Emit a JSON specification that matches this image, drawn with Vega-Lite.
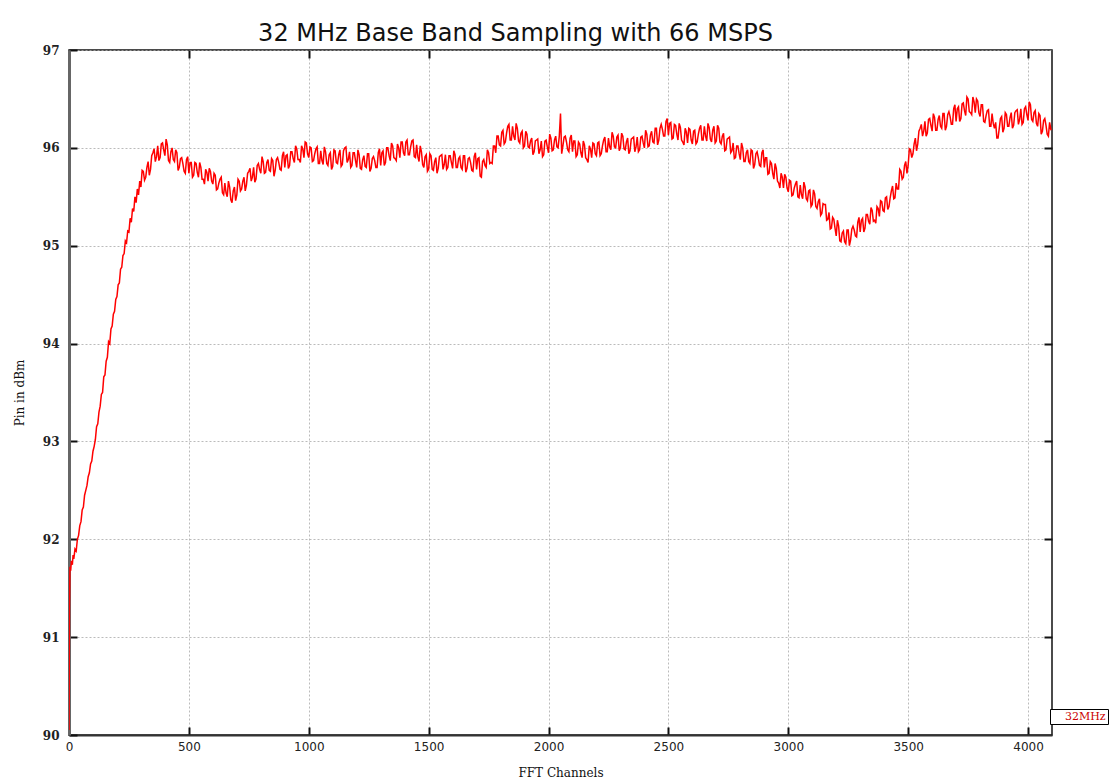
{
  "$schema": "https://vega.github.io/schema/vega-lite/v6.json",
  "autosize": {"type": "none"},
  "padding": {"left": 69, "top": 50, "right": 57, "bottom": 48},
  "width": 983,
  "height": 685,
  "background": "white",
  "title": {"text": "32 MHz Base Band Sampling with 66 MSPS", "font": "DejaVu Sans", "fontSize": 24, "fontWeight": "normal", "color": "#111", "anchor": "middle", "dx": -45, "offset": -2},
  "config": {
    "view": {"stroke": "#111", "strokeWidth": 1.5},
    "axis": {"gridColor": "#aaaaaa", "gridDash": [2, 2], "gridWidth": 0.8, "tickColor": "#111", "tickWidth": 2, "tickSize": -8}
  },
  "data": {"values": [
    {"c":0,"p":90.05},{"c":2,"p":91.3},{"c":4,"p":91.72},{"c":7,"p":91.68},{"c":10,"p":91.78},{"c":14,"p":91.74},{"c":17,"p":91.84},{"c":20,"p":91.8},{"c":25,"p":91.9},{"c":30,"p":91.88},{"c":35,"p":92.0},{"c":40,"p":92.04},{"c":45,"p":92.14},{"c":50,"p":92.18},{"c":55,"p":92.3},{"c":60,"p":92.33},{"c":65,"p":92.45},{"c":70,"p":92.5},{"c":75,"p":92.55},{"c":80,"p":92.64},{"c":85,"p":92.68},{"c":90,"p":92.77},{"c":95,"p":92.8},{"c":100,"p":92.9},{"c":105,"p":92.95},{"c":110,"p":93.02},{"c":115,"p":93.15},{"c":120,"p":93.18},{"c":125,"p":93.3},{"c":130,"p":93.36},{"c":135,"p":93.48},{"c":140,"p":93.5},{"c":145,"p":93.66},{"c":150,"p":93.68},{"c":155,"p":93.82},{"c":160,"p":93.86},{"c":165,"p":94.02},{"c":170,"p":94.0},{"c":175,"p":94.15},{"c":180,"p":94.18},{"c":185,"p":94.3},{"c":190,"p":94.33},{"c":195,"p":94.45},{"c":200,"p":94.48},{"c":205,"p":94.6},{"c":210,"p":94.62},{"c":215,"p":94.76},{"c":220,"p":94.78},{"c":225,"p":94.9},{"c":230,"p":94.92},{"c":235,"p":95.05},{"c":240,"p":95.03},{"c":245,"p":95.15},{"c":250,"p":95.14},{"c":255,"p":95.28},{"c":260,"p":95.24},{"c":265,"p":95.38},{"c":270,"p":95.35},{"c":275,"p":95.5},{"c":280,"p":95.44},{"c":285,"p":95.58},{"c":290,"p":95.52},{"c":295,"p":95.66},{"c":300,"p":95.6},
    {"c":310,"p":95.76},{"c":320,"p":95.7},{"c":330,"p":95.86},{"c":340,"p":95.78},{"c":350,"p":95.95},{"c":360,"p":95.86},{"c":370,"p":96.02},{"c":380,"p":95.9},{"c":390,"p":96.05},{"c":400,"p":95.92},{"c":410,"p":96.03},{"c":420,"p":95.85},{"c":430,"p":96.0},{"c":440,"p":95.86},{"c":450,"p":95.95},{"c":460,"p":95.8},{"c":470,"p":95.9},{"c":480,"p":95.76},{"c":490,"p":95.88},{"c":500,"p":95.74},
    {"c":510,"p":95.85},{"c":520,"p":95.72},{"c":530,"p":95.84},{"c":540,"p":95.7},{"c":550,"p":95.8},{"c":560,"p":95.68},{"c":570,"p":95.78},{"c":580,"p":95.66},{"c":590,"p":95.76},{"c":600,"p":95.63},{"c":610,"p":95.72},{"c":620,"p":95.58},{"c":630,"p":95.68},{"c":640,"p":95.54},{"c":650,"p":95.64},{"c":660,"p":95.5},{"c":670,"p":95.6},{"c":680,"p":95.44},{"c":690,"p":95.6},{"c":700,"p":95.52},
    {"c":710,"p":95.66},{"c":720,"p":95.58},{"c":730,"p":95.7},{"c":740,"p":95.62},{"c":750,"p":95.76},{"c":760,"p":95.66},{"c":770,"p":95.8},{"c":780,"p":95.68},{"c":790,"p":95.84},{"c":800,"p":95.74},{"c":810,"p":95.86},{"c":820,"p":95.75},{"c":830,"p":95.88},{"c":840,"p":95.76},{"c":850,"p":95.87},{"c":860,"p":95.77},{"c":870,"p":95.9},{"c":880,"p":95.78},{"c":890,"p":95.92},{"c":900,"p":95.8},
    {"c":910,"p":95.93},{"c":920,"p":95.82},{"c":930,"p":95.96},{"c":940,"p":95.85},{"c":950,"p":95.99},{"c":960,"p":95.88},{"c":970,"p":96.02},{"c":980,"p":95.9},{"c":990,"p":96.05},{"c":1000,"p":95.9},{"c":1010,"p":96.0},{"c":1020,"p":95.87},{"c":1030,"p":95.99},{"c":1040,"p":95.84},{"c":1050,"p":95.97},{"c":1060,"p":95.83},{"c":1070,"p":95.96},{"c":1080,"p":95.82},{"c":1090,"p":95.95},{"c":1100,"p":95.81},
    {"c":1110,"p":95.97},{"c":1120,"p":95.84},{"c":1130,"p":95.98},{"c":1140,"p":95.83},{"c":1150,"p":96.0},{"c":1160,"p":95.85},{"c":1170,"p":95.96},{"c":1180,"p":95.82},{"c":1190,"p":95.95},{"c":1200,"p":95.8},{"c":1210,"p":95.93},{"c":1220,"p":95.78},{"c":1230,"p":95.92},{"c":1240,"p":95.8},{"c":1250,"p":95.94},{"c":1260,"p":95.79},{"c":1270,"p":95.91},{"c":1280,"p":95.8},{"c":1290,"p":95.95},{"c":1300,"p":95.82},
    {"c":1310,"p":95.97},{"c":1320,"p":95.85},{"c":1330,"p":96.0},{"c":1340,"p":95.87},{"c":1350,"p":96.02},{"c":1360,"p":95.89},{"c":1370,"p":96.04},{"c":1380,"p":95.9},{"c":1390,"p":96.06},{"c":1400,"p":95.92},{"c":1410,"p":96.08},{"c":1420,"p":95.93},{"c":1430,"p":96.07},{"c":1440,"p":95.91},{"c":1450,"p":96.03},{"c":1460,"p":95.86},{"c":1470,"p":95.96},{"c":1480,"p":95.8},{"c":1490,"p":95.93},{"c":1500,"p":95.78},
    {"c":1510,"p":95.92},{"c":1520,"p":95.77},{"c":1530,"p":95.9},{"c":1540,"p":95.79},{"c":1550,"p":95.92},{"c":1560,"p":95.78},{"c":1570,"p":95.93},{"c":1580,"p":95.8},{"c":1590,"p":95.92},{"c":1600,"p":95.79},{"c":1610,"p":95.93},{"c":1620,"p":95.8},{"c":1630,"p":95.91},{"c":1640,"p":95.78},{"c":1650,"p":95.92},{"c":1660,"p":95.79},{"c":1670,"p":95.9},{"c":1680,"p":95.77},{"c":1690,"p":95.91},{"c":1700,"p":95.78},
    {"c":1710,"p":95.9},{"c":1720,"p":95.7},{"c":1730,"p":95.88},{"c":1740,"p":95.8},{"c":1750,"p":95.95},{"c":1760,"p":95.85},{"c":1770,"p":96.02},{"c":1780,"p":95.95},{"c":1790,"p":96.12},{"c":1800,"p":96.02},{"c":1810,"p":96.18},{"c":1820,"p":96.06},{"c":1830,"p":96.22},{"c":1840,"p":96.08},{"c":1850,"p":96.22},{"c":1860,"p":96.08},{"c":1870,"p":96.2},{"c":1880,"p":96.05},{"c":1890,"p":96.17},{"c":1900,"p":96.02},
    {"c":1910,"p":96.14},{"c":1920,"p":96.0},{"c":1930,"p":96.1},{"c":1940,"p":95.96},{"c":1950,"p":96.08},{"c":1960,"p":95.94},{"c":1970,"p":96.07},{"c":1980,"p":95.93},{"c":1990,"p":96.08},{"c":2000,"p":95.95},{"c":2010,"p":96.1},{"c":2020,"p":95.98},{"c":2030,"p":96.12},{"c":2040,"p":96.0},{"c":2050,"p":96.35},{"c":2060,"p":96.02},{"c":2070,"p":96.12},{"c":2080,"p":95.98},{"c":2090,"p":96.1},{"c":2100,"p":95.96},
    {"c":2110,"p":96.07},{"c":2120,"p":95.93},{"c":2130,"p":96.04},{"c":2140,"p":95.9},{"c":2150,"p":96.03},{"c":2160,"p":95.88},{"c":2170,"p":96.02},{"c":2180,"p":95.9},{"c":2190,"p":96.04},{"c":2200,"p":95.92},{"c":2210,"p":96.06},{"c":2220,"p":95.94},{"c":2230,"p":96.08},{"c":2240,"p":95.96},{"c":2250,"p":96.1},{"c":2260,"p":95.98},{"c":2270,"p":96.12},{"c":2280,"p":96.0},{"c":2290,"p":96.13},{"c":2300,"p":96.0},
    {"c":2310,"p":96.12},{"c":2320,"p":95.98},{"c":2330,"p":96.1},{"c":2340,"p":95.97},{"c":2350,"p":96.1},{"c":2360,"p":95.96},{"c":2370,"p":96.11},{"c":2380,"p":95.98},{"c":2390,"p":96.12},{"c":2400,"p":96.0},{"c":2410,"p":96.14},{"c":2420,"p":96.02},{"c":2430,"p":96.17},{"c":2440,"p":96.05},{"c":2450,"p":96.2},{"c":2460,"p":96.08},{"c":2470,"p":96.24},{"c":2480,"p":96.12},{"c":2490,"p":96.27},{"c":2500,"p":96.13},
    {"c":2510,"p":96.26},{"c":2520,"p":96.1},{"c":2530,"p":96.23},{"c":2540,"p":96.08},{"c":2550,"p":96.21},{"c":2560,"p":96.06},{"c":2570,"p":96.2},{"c":2580,"p":96.05},{"c":2590,"p":96.19},{"c":2600,"p":96.04},{"c":2610,"p":96.18},{"c":2620,"p":96.06},{"c":2630,"p":96.2},{"c":2640,"p":96.08},{"c":2650,"p":96.22},{"c":2660,"p":96.07},{"c":2670,"p":96.21},{"c":2680,"p":96.06},{"c":2690,"p":96.22},{"c":2700,"p":96.07},
    {"c":2710,"p":96.2},{"c":2720,"p":96.04},{"c":2730,"p":96.15},{"c":2740,"p":95.98},{"c":2750,"p":96.1},{"c":2760,"p":95.95},{"c":2770,"p":96.05},{"c":2780,"p":95.9},{"c":2790,"p":96.02},{"c":2800,"p":95.88},{"c":2810,"p":96.0},{"c":2820,"p":95.86},{"c":2830,"p":95.98},{"c":2840,"p":95.84},{"c":2850,"p":95.97},{"c":2860,"p":95.83},{"c":2870,"p":95.96},{"c":2880,"p":95.82},{"c":2890,"p":95.95},{"c":2900,"p":95.8},
    {"c":2910,"p":95.9},{"c":2920,"p":95.74},{"c":2930,"p":95.84},{"c":2940,"p":95.68},{"c":2950,"p":95.79},{"c":2960,"p":95.64},{"c":2970,"p":95.74},{"c":2980,"p":95.59},{"c":2990,"p":95.7},{"c":3000,"p":95.55},{"c":3010,"p":95.66},{"c":3020,"p":95.52},{"c":3030,"p":95.63},{"c":3040,"p":95.5},{"c":3050,"p":95.62},{"c":3060,"p":95.48},{"c":3070,"p":95.6},{"c":3080,"p":95.46},{"c":3090,"p":95.57},{"c":3100,"p":95.42},
    {"c":3110,"p":95.53},{"c":3120,"p":95.38},{"c":3130,"p":95.48},{"c":3140,"p":95.33},{"c":3150,"p":95.42},{"c":3160,"p":95.26},{"c":3170,"p":95.34},{"c":3180,"p":95.18},{"c":3190,"p":95.27},{"c":3200,"p":95.1},{"c":3210,"p":95.2},{"c":3220,"p":95.04},{"c":3230,"p":95.15},{"c":3240,"p":95.02},{"c":3250,"p":95.16},{"c":3260,"p":95.06},{"c":3270,"p":95.2},{"c":3280,"p":95.1},{"c":3290,"p":95.24},{"c":3300,"p":95.14},
    {"c":3310,"p":95.28},{"c":3320,"p":95.18},{"c":3330,"p":95.32},{"c":3340,"p":95.22},{"c":3350,"p":95.36},{"c":3360,"p":95.26},{"c":3370,"p":95.4},{"c":3380,"p":95.3},{"c":3390,"p":95.45},{"c":3400,"p":95.35},{"c":3410,"p":95.5},{"c":3420,"p":95.4},{"c":3430,"p":95.56},{"c":3440,"p":95.48},{"c":3450,"p":95.64},{"c":3460,"p":95.58},{"c":3470,"p":95.76},{"c":3480,"p":95.7},{"c":3490,"p":95.86},{"c":3500,"p":95.82},
    {"c":3510,"p":95.98},{"c":3520,"p":95.94},{"c":3530,"p":96.1},{"c":3540,"p":96.04},{"c":3550,"p":96.2},{"c":3560,"p":96.12},{"c":3570,"p":96.27},{"c":3580,"p":96.15},{"c":3590,"p":96.3},{"c":3600,"p":96.17},{"c":3610,"p":96.31},{"c":3620,"p":96.18},{"c":3630,"p":96.33},{"c":3640,"p":96.2},{"c":3650,"p":96.35},{"c":3660,"p":96.22},{"c":3670,"p":96.37},{"c":3680,"p":96.24},{"c":3690,"p":96.4},{"c":3700,"p":96.27},
    {"c":3710,"p":96.42},{"c":3720,"p":96.3},{"c":3730,"p":96.46},{"c":3740,"p":96.33},{"c":3750,"p":96.5},{"c":3760,"p":96.36},{"c":3770,"p":96.52},{"c":3780,"p":96.36},{"c":3790,"p":96.48},{"c":3800,"p":96.32},{"c":3810,"p":96.44},{"c":3820,"p":96.26},{"c":3830,"p":96.38},{"c":3840,"p":96.22},{"c":3850,"p":96.35},{"c":3860,"p":96.2},{"c":3870,"p":96.1},{"c":3880,"p":96.2},{"c":3890,"p":96.32},{"c":3900,"p":96.2},
    {"c":3910,"p":96.34},{"c":3920,"p":96.22},{"c":3930,"p":96.36},{"c":3940,"p":96.23},{"c":3950,"p":96.38},{"c":3960,"p":96.24},{"c":3970,"p":96.4},{"c":3980,"p":96.26},{"c":3990,"p":96.42},{"c":4000,"p":96.28},{"c":4010,"p":96.44},{"c":4020,"p":96.27},{"c":4030,"p":96.38},{"c":4040,"p":96.22},{"c":4050,"p":96.33},{"c":4060,"p":96.17},{"c":4070,"p":96.3},{"c":4080,"p":96.14},{"c":4090,"p":96.26},{"c":4096,"p":96.18},
    {"c":305,"p":95.77},{"c":315,"p":95.67},{"c":325,"p":95.8},{"c":335,"p":95.72},{"c":345,"p":95.92},{"c":355,"p":95.99},{"c":365,"p":95.91},{"c":375,"p":95.87},{"c":385,"p":96.04},{"c":395,"p":95.98},{"c":405,"p":96.09},{"c":415,"p":95.87},{"c":425,"p":95.96},{"c":435,"p":95.88},{"c":445,"p":95.98},{"c":455,"p":95.77},{"c":465,"p":95.89},{"c":475,"p":95.84},{"c":485,"p":95.74},{"c":495,"p":95.91},
    {"c":505,"p":95.85},{"c":515,"p":95.7},{"c":525,"p":95.85},{"c":535,"p":95.75},{"c":545,"p":95.85},{"c":555,"p":95.68},{"c":565,"p":95.63},{"c":575,"p":95.75},{"c":585,"p":95.79},{"c":595,"p":95.66},{"c":605,"p":95.74},{"c":615,"p":95.57},{"c":625,"p":95.64},{"c":635,"p":95.7},{"c":645,"p":95.52},{"c":655,"p":95.54},{"c":665,"p":95.66},{"c":675,"p":95.47},{"c":685,"p":95.56},{"c":695,"p":95.46},
    {"c":705,"p":95.68},{"c":715,"p":95.56},{"c":725,"p":95.66},{"c":735,"p":95.56},{"c":745,"p":95.74},{"c":755,"p":95.79},{"c":765,"p":95.7},{"c":775,"p":95.65},{"c":785,"p":95.82},{"c":795,"p":95.78},{"c":805,"p":95.91},{"c":815,"p":95.74},{"c":825,"p":95.85},{"c":835,"p":95.77},{"c":845,"p":95.89},{"c":855,"p":95.71},{"c":865,"p":95.88},{"c":875,"p":95.85},{"c":885,"p":95.77},{"c":895,"p":95.96},
    {"c":905,"p":95.92},{"c":915,"p":95.79},{"c":925,"p":95.96},{"c":935,"p":95.89},{"c":945,"p":96.02},{"c":955,"p":95.88},{"c":965,"p":95.85},{"c":975,"p":95.99},{"c":985,"p":96.06},{"c":995,"p":95.94},{"c":1005,"p":96.01},{"c":1015,"p":95.86},{"c":1025,"p":95.94},{"c":1035,"p":96.01},{"c":1045,"p":95.84},{"c":1055,"p":95.87},{"c":1065,"p":96.01},{"c":1075,"p":95.84},{"c":1085,"p":95.93},{"c":1095,"p":95.78},
    {"c":1105,"p":95.98},{"c":1115,"p":95.85},{"c":1125,"p":95.93},{"c":1135,"p":95.81},{"c":1145,"p":95.97},{"c":1155,"p":96.01},{"c":1165,"p":95.88},{"c":1175,"p":95.8},{"c":1185,"p":95.95},{"c":1195,"p":95.87},{"c":1205,"p":95.98},{"c":1215,"p":95.79},{"c":1225,"p":95.88},{"c":1235,"p":95.81},{"c":1245,"p":95.94},{"c":1255,"p":95.76},{"c":1265,"p":95.89},{"c":1275,"p":95.87},{"c":1285,"p":95.8},{"c":1295,"p":95.99},
    {"c":1305,"p":95.95},{"c":1315,"p":95.82},{"c":1325,"p":96.0},{"c":1335,"p":95.92},{"c":1345,"p":96.05},{"c":1355,"p":95.9},{"c":1365,"p":95.87},{"c":1375,"p":96.0},{"c":1385,"p":96.06},{"c":1395,"p":95.95},{"c":1405,"p":96.06},{"c":1415,"p":95.93},{"c":1425,"p":96.01},{"c":1435,"p":96.08},{"c":1445,"p":95.9},{"c":1455,"p":95.91},{"c":1465,"p":96.02},{"c":1475,"p":95.83},{"c":1485,"p":95.91},{"c":1495,"p":95.76},
    {"c":1505,"p":95.94},{"c":1515,"p":95.78},{"c":1525,"p":95.86},{"c":1535,"p":95.74},{"c":1545,"p":95.91},{"c":1555,"p":95.93},{"c":1565,"p":95.83},{"c":1575,"p":95.78},{"c":1585,"p":95.92},{"c":1595,"p":95.85},{"c":1605,"p":95.97},{"c":1615,"p":95.8},{"c":1625,"p":95.89},{"c":1635,"p":95.8},{"c":1645,"p":95.92},{"c":1655,"p":95.75},{"c":1665,"p":95.89},{"c":1675,"p":95.85},{"c":1685,"p":95.76},{"c":1695,"p":95.95},
    {"c":1705,"p":95.89},{"c":1715,"p":95.71},{"c":1725,"p":95.86},{"c":1735,"p":95.82},{"c":1745,"p":95.98},{"c":1755,"p":95.84},{"c":1765,"p":95.84},{"c":1775,"p":96.02},{"c":1785,"p":96.12},{"c":1795,"p":96.03},{"c":1805,"p":96.16},{"c":1815,"p":96.04},{"c":1825,"p":96.15},{"c":1835,"p":96.24},{"c":1845,"p":96.08},{"c":1855,"p":96.12},{"c":1865,"p":96.25},{"c":1875,"p":96.07},{"c":1885,"p":96.15},{"c":1895,"p":96.0},
    {"c":1905,"p":96.17},{"c":1915,"p":96.01},{"c":1925,"p":96.07},{"c":1935,"p":95.93},{"c":1945,"p":96.07},{"c":1955,"p":96.09},{"c":1965,"p":95.98},{"c":1975,"p":95.91},{"c":1985,"p":96.07},{"c":1995,"p":96.01},{"c":2005,"p":96.14},{"c":2015,"p":95.97},{"c":2025,"p":96.08},{"c":2035,"p":96.01},{"c":2045,"p":96.12},{"c":2055,"p":95.94},{"c":2065,"p":96.11},{"c":2075,"p":96.06},{"c":2085,"p":95.96},{"c":2095,"p":96.13},
    {"c":2105,"p":96.07},{"c":2115,"p":95.91},{"c":2125,"p":96.06},{"c":2135,"p":95.95},{"c":2145,"p":96.07},{"c":2155,"p":95.9},{"c":2165,"p":95.85},{"c":2175,"p":95.99},{"c":2185,"p":96.05},{"c":2195,"p":95.94},{"c":2205,"p":96.05},{"c":2215,"p":95.92},{"c":2225,"p":96.02},{"c":2235,"p":96.11},{"c":2245,"p":95.96},{"c":2255,"p":96.01},{"c":2265,"p":96.16},{"c":2275,"p":96.01},{"c":2285,"p":96.11},{"c":2295,"p":95.97},
    {"c":2305,"p":96.15},{"c":2315,"p":95.99},{"c":2325,"p":96.06},{"c":2335,"p":95.94},{"c":2345,"p":96.09},{"c":2355,"p":96.11},{"c":2365,"p":96.01},{"c":2375,"p":95.96},{"c":2385,"p":96.11},{"c":2395,"p":96.05},{"c":2405,"p":96.18},{"c":2415,"p":96.01},{"c":2425,"p":96.13},{"c":2435,"p":96.06},{"c":2445,"p":96.2},{"c":2455,"p":96.03},{"c":2465,"p":96.2},{"c":2475,"p":96.19},{"c":2485,"p":96.12},{"c":2495,"p":96.3},
    {"c":2505,"p":96.25},{"c":2515,"p":96.09},{"c":2525,"p":96.24},{"c":2535,"p":96.14},{"c":2545,"p":96.25},{"c":2555,"p":96.08},{"c":2565,"p":96.03},{"c":2575,"p":96.16},{"c":2585,"p":96.2},{"c":2595,"p":96.08},{"c":2605,"p":96.17},{"c":2615,"p":96.04},{"c":2625,"p":96.14},{"c":2635,"p":96.23},{"c":2645,"p":96.08},{"c":2655,"p":96.12},{"c":2665,"p":96.25},{"c":2675,"p":96.09},{"c":2685,"p":96.18},{"c":2695,"p":96.05},
    {"c":2705,"p":96.23},{"c":2715,"p":96.06},{"c":2725,"p":96.12},{"c":2735,"p":95.97},{"c":2745,"p":96.09},{"c":2755,"p":96.11},{"c":2765,"p":95.97},{"c":2775,"p":95.89},{"c":2785,"p":96.02},{"c":2795,"p":95.94},{"c":2805,"p":96.05},{"c":2815,"p":95.86},{"c":2825,"p":95.95},{"c":2835,"p":95.86},{"c":2845,"p":95.98},{"c":2855,"p":95.79},{"c":2865,"p":95.94},{"c":2875,"p":95.9},{"c":2885,"p":95.81},{"c":2895,"p":95.98},
    {"c":2905,"p":95.9},{"c":2915,"p":95.73},{"c":2925,"p":95.86},{"c":2935,"p":95.74},{"c":2945,"p":95.84},{"c":2955,"p":95.66},{"c":2965,"p":95.59},{"c":2975,"p":95.7},{"c":2985,"p":95.73},{"c":2995,"p":95.59},{"c":3005,"p":95.67},{"c":3015,"p":95.51},{"c":3025,"p":95.59},{"c":3035,"p":95.66},{"c":3045,"p":95.49},{"c":3055,"p":95.52},{"c":3065,"p":95.65},{"c":3075,"p":95.48},{"c":3085,"p":95.56},{"c":3095,"p":95.4},
    {"c":3105,"p":95.57},{"c":3115,"p":95.4},{"c":3125,"p":95.45},{"c":3135,"p":95.31},{"c":3145,"p":95.43},{"c":3155,"p":95.42},{"c":3165,"p":95.27},{"c":3175,"p":95.17},{"c":3185,"p":95.29},{"c":3195,"p":95.18},{"c":3205,"p":95.26},{"c":3215,"p":95.05},{"c":3225,"p":95.13},{"c":3235,"p":95.04},{"c":3245,"p":95.16},{"c":3255,"p":95.0},{"c":3265,"p":95.17},{"c":3275,"p":95.16},{"c":3285,"p":95.09},{"c":3295,"p":95.29},
    {"c":3305,"p":95.26},{"c":3315,"p":95.14},{"c":3325,"p":95.32},{"c":3335,"p":95.25},{"c":3345,"p":95.39},{"c":3355,"p":95.25},{"c":3365,"p":95.23},{"c":3375,"p":95.38},{"c":3385,"p":95.46},{"c":3395,"p":95.36},{"c":3405,"p":95.49},{"c":3415,"p":95.37},{"c":3425,"p":95.49},{"c":3435,"p":95.61},{"c":3445,"p":95.49},{"c":3455,"p":95.58},{"c":3465,"p":95.78},{"c":3475,"p":95.68},{"c":3485,"p":95.82},{"c":3495,"p":95.74},
    {"c":3505,"p":95.99},{"c":3515,"p":95.9},{"c":3525,"p":96.04},{"c":3535,"p":95.97},{"c":3545,"p":96.17},{"c":3555,"p":96.24},{"c":3565,"p":96.17},{"c":3575,"p":96.12},{"c":3585,"p":96.29},{"c":3595,"p":96.23},{"c":3605,"p":96.35},{"c":3615,"p":96.18},{"c":3625,"p":96.29},{"c":3635,"p":96.22},{"c":3645,"p":96.35},{"c":3655,"p":96.18},{"c":3665,"p":96.34},{"c":3675,"p":96.32},{"c":3685,"p":96.24},{"c":3695,"p":96.44},
    {"c":3705,"p":96.4},{"c":3715,"p":96.27},{"c":3725,"p":96.45},{"c":3735,"p":96.38},{"c":3745,"p":96.52},{"c":3755,"p":96.37},{"c":3765,"p":96.34},{"c":3775,"p":96.47},{"c":3785,"p":96.5},{"c":3795,"p":96.36},{"c":3805,"p":96.44},{"c":3815,"p":96.27},{"c":3825,"p":96.33},{"c":3835,"p":96.39},{"c":3845,"p":96.22},{"c":3855,"p":96.25},{"c":3865,"p":96.26},{"c":3875,"p":96.1},{"c":3885,"p":96.3},{"c":3895,"p":96.16},
    {"c":3905,"p":96.36},{"c":3915,"p":96.22},{"c":3925,"p":96.31},{"c":3935,"p":96.2},{"c":3945,"p":96.36},{"c":3955,"p":96.39},{"c":3965,"p":96.29},{"c":3975,"p":96.24},{"c":3985,"p":96.4},{"c":3995,"p":96.34},{"c":4005,"p":96.47},{"c":4015,"p":96.29},{"c":4025,"p":96.36},{"c":4035,"p":96.25},{"c":4045,"p":96.35},{"c":4055,"p":96.14},{"c":4065,"p":96.28},{"c":4075,"p":96.23},{"c":4085,"p":96.12}
  ]},
  "layer": [
    {
      "mark": {"type": "line", "strokeWidth": 1.5, "clip": true},
      "encoding": {
        "x": {"field": "c", "type": "quantitative", "scale": {"domain": [0, 4100], "nice": false, "zero": false},
          "axis": {"values": [0, 500, 1000, 1500, 2000, 2500, 3000, 3500, 4000], "format": "d", "title": "FFT Channels", "titleFont": "DejaVu Serif", "titleFontSize": 12, "titleFontWeight": "normal", "titleColor": "#111", "labelFont": "DejaVu Sans", "labelFontSize": 12, "labelColor": "#222", "labelPadding": 14, "titlePadding": 15, "domainColor": "#333", "domainWidth": 2, "labelFlush": false}},
        "y": {"field": "p", "type": "quantitative", "scale": {"domain": [90, 97], "nice": false, "zero": false},
          "axis": {"values": [90, 91, 92, 93, 94, 95, 96, 97], "title": "Pin in dBm", "titleFont": "DejaVu Serif", "titleFontSize": 12, "titleFontWeight": "normal", "titleColor": "#111", "labelFont": "DejaVu Serif", "labelFontSize": 12, "labelFontWeight": "bold", "labelColor": "#222", "labelPadding": 18, "titlePadding": 16, "domainColor": "#666", "domainWidth": 3}},
        "color": {"datum": "32MHz", "scale": {"range": ["#ff0000"]},
          "legend": {"title": null, "orient": "none", "legendX": 981, "legendY": 659, "strokeColor": "#000", "fillColor": "white", "padding": 2, "symbolOpacity": 0, "symbolSize": 1, "symbolStrokeWidth": 0, "labelColor": "#cc0000", "labelFont": "DejaVu Serif", "labelFontSize": 11, "labelOffset": 2}}
      }
    },
    {
      "mark": {"type": "line", "strokeOpacity": 0},
      "encoding": {
        "x": {"field": "c", "type": "quantitative", "axis": {"orient": "top", "values": [500, 1000, 1500, 2000, 2500, 3000, 3500, 4000], "labels": false, "domain": false, "grid": false, "title": null}},
        "y": {"field": "p", "type": "quantitative", "axis": {"orient": "right", "values": [91, 92, 93, 94, 95, 96], "labels": false, "domain": false, "grid": false, "title": null}}
      }
    }
  ],
  "resolve": {"axis": {"x": "independent", "y": "independent"}}
}
